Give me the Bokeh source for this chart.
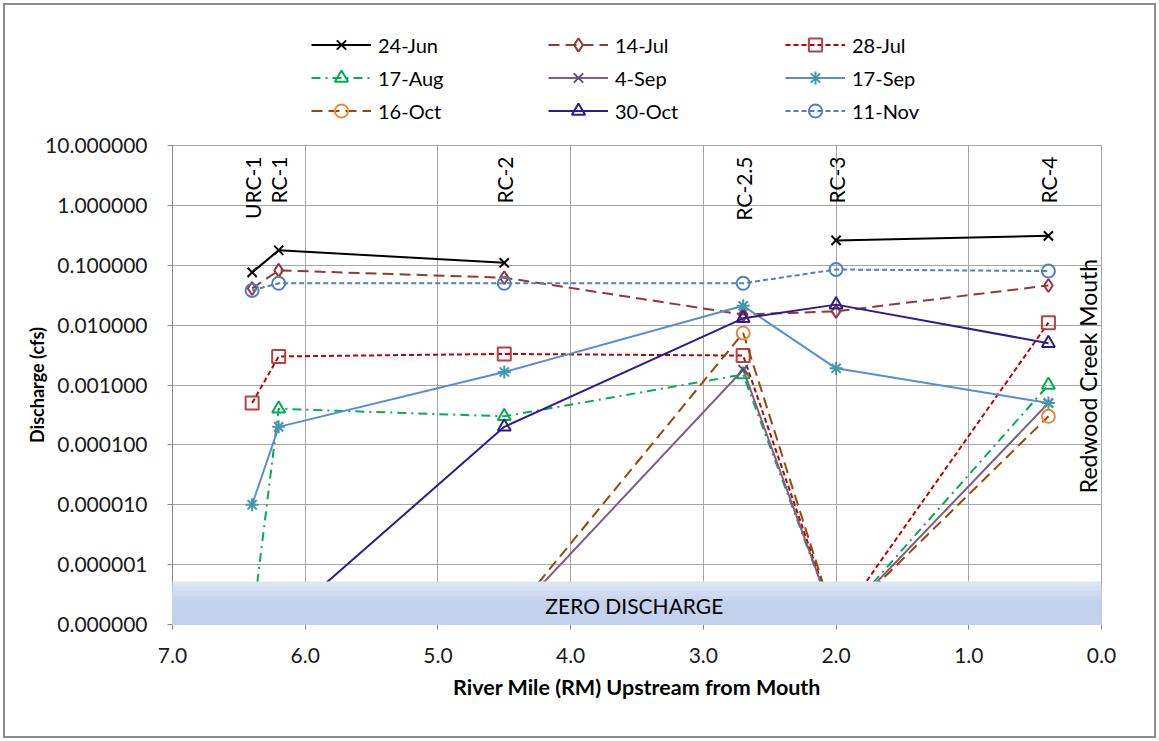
import math
from bokeh.plotting import figure
from bokeh.layouts import column
from bokeh.models import (Range1d, FixedTicker, PrintfTickFormatter, Legend,
                          LegendItem, BoxAnnotation, Label, ColumnDataSource)
from bokeh.core.properties import value
from bokeh.embed import file_html
from bokeh.resources import INLINE

nan = float("nan")

# ---- data -------------------------------------------------------------
stations = ["URC-1", "RC-1", "RC-2", "RC-2.5", "RC-3", "RC-4"]
river_mile = [6.4, 6.2, 4.5, 2.7, 2.0, 0.4]

series_names = ["24-Jun", "14-Jul", "28-Jul", "17-Aug", "4-Sep", "17-Sep",
                "16-Oct", "30-Oct", "11-Nov"]
jun24 = [0.076, 0.178, 0.11, nan, 0.26, 0.31]
jul14 = [0.041, 0.082, 0.062, 0.015, 0.017, 0.046]
jul28 = [0.0005, 0.003, 0.0033, 0.0031, 0.0, 0.011]
aug17 = [0.0, 0.0004, 0.0003, 0.0015, 0.0, 0.001]
sep04 = [0.0, 0.0, 0.0, 0.0018, 0.0, 0.0005]
sep17 = [0.00001, 0.0002, 0.00165, 0.021, 0.0019, 0.0005]
oct16 = [0.0, 0.0, 0.0, 0.0074, 0.0, 0.0003]
oct30 = [0.0, 0.0, 0.0002, 0.013, 0.022, 0.005]
nov11 = [0.038, 0.05, 0.05, 0.05, 0.085, 0.08]
series_values = [jun24, jul14, jul28, aug17, sep04, sep17, oct16, oct30, nov11]

y_ticks = [1e-7, 1e-6, 1e-5, 1e-4, 1e-3, 1e-2, 1e-1, 1.0, 10.0]
x_ticks = [0, 1, 2, 3, 4, 5, 6, 7]
zero_floor = 1e-7          # zero discharge is drawn on the bottom of the log axis
mouth_label = "Redwood Creek Mouth"
zero_label = "ZERO DISCHARGE"

# ---- styles -----------------------------------------------------------
styles = [
    dict(lc="#000000", dash="solid", mk="x", mc="#000000"),
    dict(lc="#953735", dash="11 6", mk="diamond", mc="#953735"),
    dict(lc="#c00000", dash="5 3", mk="square", mc="#b54343"),
    dict(lc="#00b050", dash="9 5 2 5", mk="triangle", mc="#00b050"),
    dict(lc="#7f6084", dash="solid", mk="x", mc="#604a7b"),
    dict(lc="#558ed5", dash="solid", mk="asterisk", mc="#4198af"),
    dict(lc="#984807", dash="11 6", mk="circle", mc="#e8893b"),
    dict(lc="#2e1b8f", dash="solid", mk="triangle", mc="#2e1b8f"),
    dict(lc="#4f81bd", dash="5 3", mk="circle", mc="#4f81bd"),
]
FONT = "Lato"
GRID = "#a6a6a6"
W = 1149

# ---- legend strip (its own canvas so nothing is clipped) ---------------
# its ranges lie far outside the data, so its renderers draw only in the legend
lf = figure(width=W, height=122, x_range=Range1d(100, 101),
            y_range=Range1d(100, 101), x_axis_type=None, y_axis_type=None,
            output_backend="svg", toolbar_location=None, min_border=0)
lf.outline_line_color = None
lf.grid.visible = False
lf.border_fill_color = "white"

# ---- main chart ---------------------------------------------------------
p = figure(width=W, height=609, x_range=Range1d(7, 0),
           y_range=Range1d(y_ticks[0], y_ticks[-1]), y_axis_type="log",
           output_backend="svg", toolbar_location=None,
           min_border_left=167, min_border_right=53,
           min_border_top=18, min_border_bottom=112)
p.outline_line_color = GRID
p.background_fill_color = "white"
p.border_fill_color = "white"

# axes
p.xaxis.ticker = FixedTicker(ticks=x_ticks)
p.xaxis.formatter = PrintfTickFormatter(format="%.1f")
p.yaxis.ticker = FixedTicker(ticks=y_ticks)
p.yaxis.formatter = PrintfTickFormatter(format="%.6f")
p.xgrid.ticker = FixedTicker(ticks=x_ticks)
p.ygrid.ticker = FixedTicker(ticks=y_ticks)
for g in (p.xgrid, p.ygrid):
    g.grid_line_color = GRID
    g.grid_line_width = 1
for ax in (p.xaxis, p.yaxis):
    ax.axis_line_color = "#868686"
    ax.major_tick_line_color = "#868686"
    ax.minor_tick_line_color = None
    ax.major_tick_in = 0
    ax.major_tick_out = 5
    ax.major_label_text_font = FONT
    ax.major_label_text_font_size = "21px"
    ax.major_label_text_color = "#1a1a1a"
    ax.axis_label_text_font = FONT
    ax.axis_label_text_font_style = "bold"
    ax.axis_label_text_color = "#000000"
p.xaxis.axis_label = "River Mile (RM) Upstream from Mouth"
p.yaxis.axis_label = "Discharge (cfs)"
p.xaxis.axis_label_text_font_size = "21.5px"
p.yaxis.axis_label_text_font_size = "18px"
p.xaxis.major_label_standoff = 18
p.yaxis.major_label_standoff = 20
p.xaxis.axis_label_standoff = 8
p.yaxis.axis_label_standoff = -6

# series
items = []
for name, vals, st in zip(series_names, series_values, styles):
    ys = [zero_floor if (v == 0) else v for v in vals]
    src = ColumnDataSource(dict(x=river_mile, y=ys))
    line_kw = dict(line_color=st["lc"], line_width=2, line_dash=st["dash"])
    mark_kw = dict(marker=st["mk"], size=13, line_color=st["mc"],
                   line_width=2, fill_color=None)
    p.line("x", "y", source=src, **line_kw)
    p.scatter("x", "y", source=src, **mark_kw)
    # matching legend renderers on the legend strip (out of its view)
    lr = lf.line("x", "y", source=src, **line_kw)
    sr = lf.scatter("x", "y", source=src, **mark_kw)
    items.append(LegendItem(label=name, renderers=[lr, sr]))

legend = Legend(items=items, orientation="horizontal", ncols=3,
                location=(139, 0), glyph_width=60, glyph_height=33,
                label_height=33, label_width=170, label_standoff=7,
                spacing=0, padding=0, margin=0,
                label_text_font=FONT, label_text_font_size="20px",
                label_text_color="#000000", border_line_color=None,
                background_fill_alpha=0)
lf.add_layout(legend)

# station labels
lab_src = ColumnDataSource(dict(x=river_mile, y=[y_ticks[-1]] * len(stations),
                                t=stations))
p.text("x", "y", text="t", source=lab_src, angle=math.pi / 2,
       text_align="right", text_baseline="middle", y_offset=11,
       text_font=value(FONT), text_font_size="21px", text_color="#000000")

p.add_layout(Label(x=0, y=10 ** -2.85, x_offset=-14, text=mouth_label,
                   angle=math.pi / 2, text_align="center",
                   text_baseline="middle", text_font=FONT,
                   text_font_size="23px", text_color="#000000"))

# zero discharge band (vertical gradient approximated by overlapping layers)
band_top, band_bot = -6.28, -7.08
top_c = (0xdf, 0xe7, 0xf5)
bot_c = (0xc2, 0xd1, 0xec)
nstrip = 10
for i in range(nstrip):
    f0 = i / nstrip
    t = min(1.0, (f0 + 0.5 / nstrip) / 0.45)
    c = tuple(int(round(a + (b - a) * t)) for a, b in zip(top_c, bot_c))
    p.add_layout(BoxAnnotation(
        left=7.03, right=0,
        top=10 ** (band_top + (band_bot - band_top) * f0),
        bottom=10 ** band_bot,
        fill_color="#%02x%02x%02x" % c, fill_alpha=1.0, line_color=None,
        level="overlay"))
p.add_layout(Label(x=3.52, y=10 ** -6.69, text=zero_label, text_align="center",
                   text_baseline="middle", text_font=FONT,
                   text_font_size="21px", text_color="#000000",
                   level="overlay"))

layout = column(lf, p, spacing=0,
                styles={"border": "2px solid #8c8c8c", "margin-left": "3px",
                        "margin-top": "3px", "background-color": "white"})

open("out.html", "w").write(file_html(layout, INLINE))
